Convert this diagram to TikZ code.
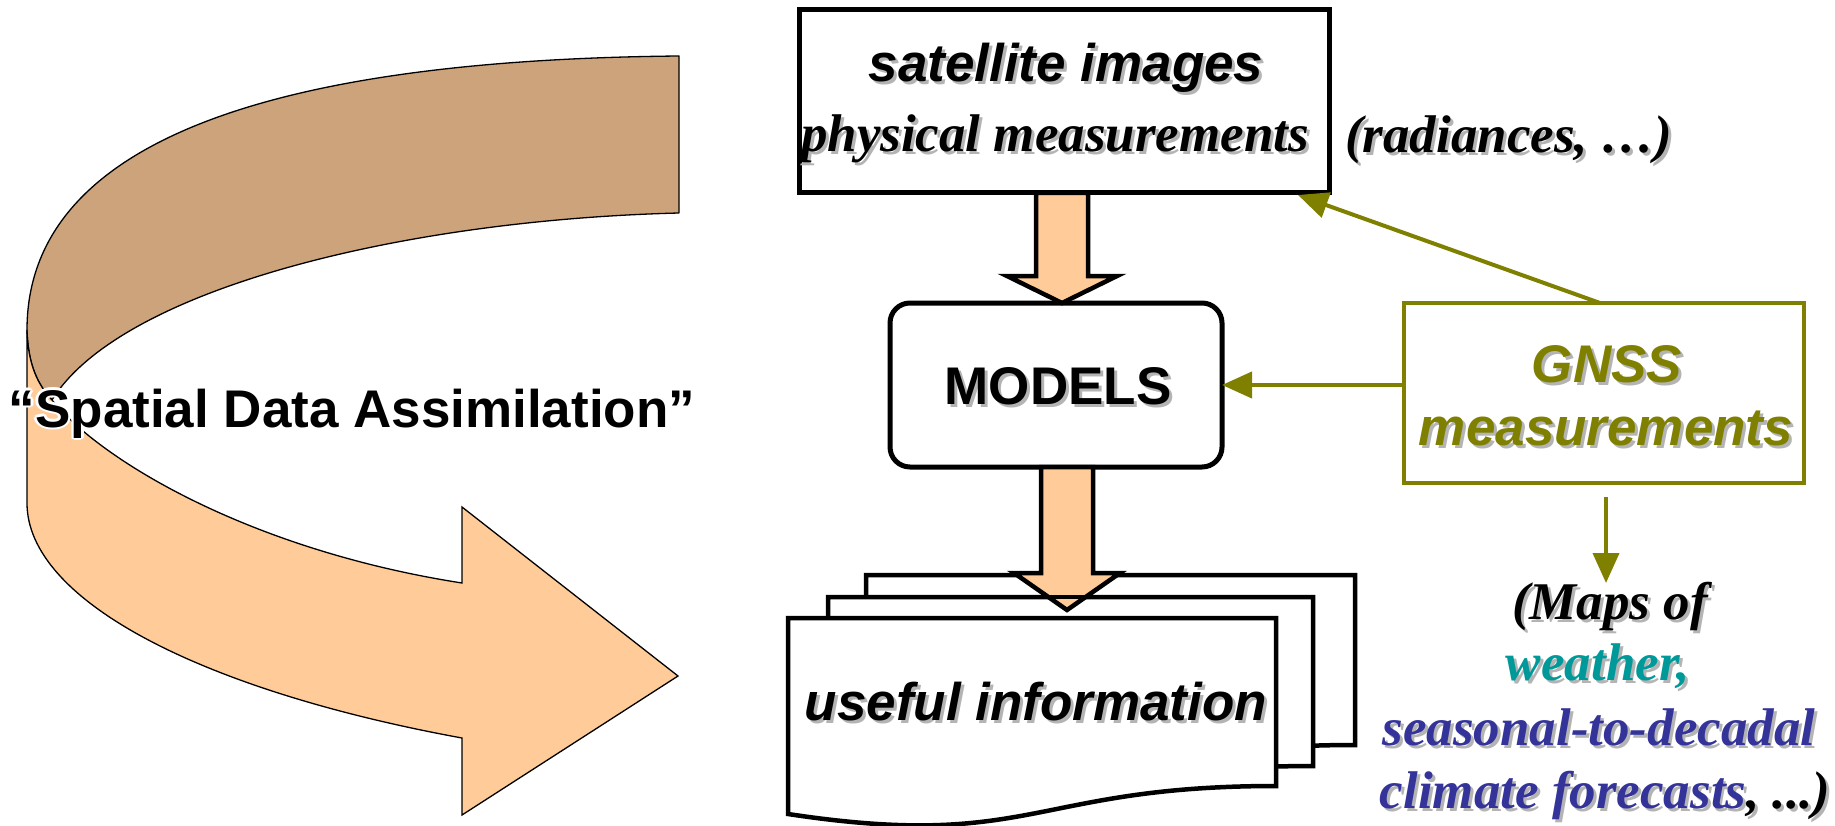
\documentclass[tikz,border=0pt]{standalone}
\usepackage{fontspec}
\setmainfont{Liberation Serif}
\newfontfamily\arialf{Liberation Sans}
\usetikzlibrary{arrows.meta,calc}
\definecolor{brownband}{RGB}{204,163,122}
\definecolor{lightor}{RGB}{255,204,153}
\definecolor{olivec}{RGB}{128,128,0}
\definecolor{tealc}{RGB}{0,153,153}
\definecolor{bluec}{RGB}{51,51,153}
\definecolor{shgray}{RGB}{180,180,180}
\newif\ifshd
\newcommand\tcol[2]{\ifshd#2\else\textcolor{#1}{#2}\fi}
\newcommand\shd[1]{\leavevmode\rlap{\shdtrue\hspace*{3pt}\raisebox{-3pt}{\color{shgray}#1}}#1}
\newcommand\halo[1]{\leavevmode\rlap{\color{white}%
\rlap{\hspace*{2.5pt}#1}\rlap{\hspace*{-2.5pt}#1}%
\rlap{\raisebox{2.5pt}{#1}}\rlap{\raisebox{-2.5pt}{#1}}%
\rlap{\hspace*{1.8pt}\raisebox{1.8pt}{#1}}\rlap{\hspace*{-1.8pt}\raisebox{1.8pt}{#1}}%
\rlap{\hspace*{1.8pt}\raisebox{-1.8pt}{#1}}\rlap{\hspace*{-1.8pt}\raisebox{-1.8pt}{#1}}}#1}
\newcommand\fs{\fontsize{53}{63}\selectfont}
\tikzset{
 band/.style={draw=black, line width=1.3pt, line join=round},
 boxk/.style={draw=black, line width=5pt, fill=white, inner sep=0pt, outer sep=0pt},
 boxo/.style={draw=olivec, line width=4.5pt, fill=white, inner sep=0pt, outer sep=0pt},
 doc/.style={draw=black, line width=4.5pt, fill=white, line join=miter},
 blockarr/.style={draw=black, line width=4.5pt, fill=lightor, line join=miter},
 olivearr/.style={draw=olivec, line width=4pt, -{Triangle[length=30pt,width=26pt]}},
 sans/.style={font=\arialf\bfseries\itshape\fs, inner sep=0pt, anchor=base},
 sansup/.style={font=\arialf\bfseries\fs, inner sep=0pt, anchor=base},
 serif/.style={font=\bfseries\itshape\fs, inner sep=0pt, anchor=base},
}
\begin{document}
\begin{tikzpicture}[x=1pt,y=-1pt]
\useasboundingbox (0,0) rectangle (1835,826);
\fill[white] (0,0) rectangle (1835,826);
% curved ribbon arrow
\draw[band, fill=brownband] (679,56) .. controls (250,60) and (27,150) .. (27,330)
  .. controls (28,365) and (38,385) .. (52,400)
  .. controls (120,290) and (400,220) .. (679,213) -- cycle;
\draw[band, fill=lightor, line join=miter] (27,330) -- (27,503)
  .. controls (27,600) and (200,690) .. (462,738) -- (462,815) -- (678,676)
  -- (462,507) -- (462,583)
  .. controls (250,550) and (100,460) .. (52,400)
  .. controls (38,385) and (28,365) .. (27,330) -- cycle;
\node[sansup] (sda) at (352,427) {\halo{“Spatial Data Assimilation”}};
% boxes
\node[boxk, minimum width=530pt, minimum height=183pt] (sat) at (1064,101.5) {};
\node[boxk, rounded corners=20pt, minimum width=332pt, minimum height=164pt] (models) at (1056,385) {};
\node[boxo, minimum width=400pt, minimum height=180pt] (gnss) at (1604,393) {};
% document stack
\draw[doc] (866,575) -- (1355,575) -- (1355,745) .. controls (1110,745) and (1110,810) .. (866,773) -- cycle;
\draw[doc] (828,597) -- (1313,597) -- (1313,766) .. controls (1070,766) and (1070,831) .. (828,794) -- cycle;
\draw[doc] (788,618) -- (1276,618) -- (1276,786) .. controls (1032,786) and (1032,851) .. (788,814) -- cycle;
% block arrows
\coordinate (a1) at ($(sat.south)+(-2,0)$);
\draw[blockarr] ($(a1)+(-26,0)$) -- ($(a1 |- models.north)+(-26,-27)$)
  -- ($(a1 |- models.north)+(-55,-27)$) -- (a1 |- models.north)
  -- ($(a1 |- models.north)+(55,-27)$) -- ($(a1 |- models.north)+(26,-27)$)
  -- ($(a1)+(26,0)$) -- cycle;
\coordinate (stacktop) at (1067,610);
\draw[blockarr] ($(stacktop |- models.south)+(-26,0)$) -- ($(stacktop)+(-26,-37)$)
  -- ($(stacktop)+(-53,-37)$) -- (stacktop) -- ($(stacktop)+(53,-37)$)
  -- ($(stacktop)+(26,-37)$) -- ($(stacktop |- models.south)+(26,0)$) -- cycle;
\draw[line width=4.5pt] (828,597) -- (1313,597);
% olive connectors
\draw[olivearr] ($(gnss.north)+(-4,0)$) -- ($(sat.south east)+(-31,2)$);
\draw[olivearr] (gnss.west |- models.east) -- (models.east);
\draw[olivearr] ([xshift=2pt,yshift=-14pt]gnss.south) -- ([xshift=2pt,yshift=-100pt]gnss.south);
% texts
\node[sans] (satA) at (1066,82) {\shd{satellite images}};
\node[serif] (satB) at (1055,152) {\shd{physical measurements}};
\node[serif, anchor=base west] (rad) at (1345,153) {\shd{(radiances, …)}};
\node[sansup] (mtxt) at (1058,404) {\shd{MODELS}};
\node[sans] (info) at (1036,720) {\shd{useful information}};
\node[sans, text=olivec] (g1) at (1607,382) {\shd{GNSS}};
\node[sans, text=olivec] (g2) at (1606,445) {\shd{measurements}};
\node[serif] (m1) at (1610,619) {\shd{(Maps of}};
\node[serif] (m2) at (1598,680) {\shd{\tcol{tealc}{weather,}}};
\node[serif] (m3) at (1599,745) {\shd{\tcol{bluec}{seasonal-to-decadal}}};
\node[serif] (m4) at (1605,808) {\shd{\tcol{bluec}{climate forecasts}, ...)}};
\end{tikzpicture}
\end{document}
